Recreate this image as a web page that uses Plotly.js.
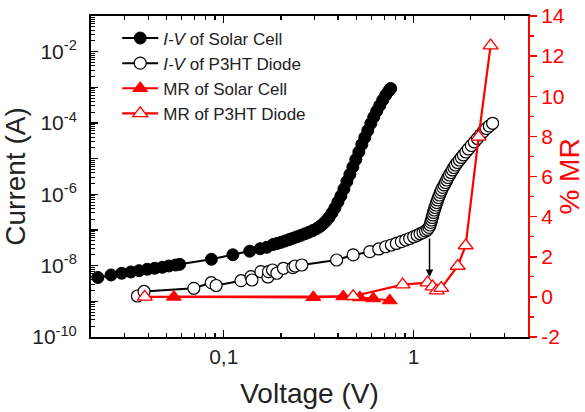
<!DOCTYPE html>
<html>
<head>
<meta charset="utf-8">
<script src="https://cdn.plot.ly/plotly-3.0.1.min.js"></script>
<style>
  html, body { margin: 0; padding: 0; background: #fff; }
  #chart { width: 585px; height: 412px; }
</style>
</head>
<body>
<div id="chart"></div>
<script>
// ---- Data ----
// I-V of Solar Cell (V, A)
const solarV = [0.02175, 0.0255, 0.0290, 0.0324, 0.0358, 0.0396, 0.0433, 0.0475, 0.0514, 0.0557, 0.0586,
  0.0861, 0.1117, 0.137, 0.1556, 0.1686,
  0.1822, 0.1911, 0.2006, 0.2105, 0.2210, 0.2319, 0.2433, 0.2554, 0.2680, 0.2813, 0.2953, 0.3098,
  0.3212, 0.3331, 0.3454, 0.3581, 0.3713, 0.3850, 0.3992, 0.4139, 0.4292, 0.4450, 0.4614, 0.4784,
  0.4961, 0.5144, 0.5334, 0.5531, 0.5735, 0.5946, 0.6166, 0.6393, 0.6629, 0.6874, 0.7127, 0.7390, 0.7571];
const solarI = [4.67e-9, 5.48e-9, 6.12e-9, 6.65e-9, 7.24e-9, 7.93e-9, 8.45e-9, 9.02e-9, 9.8e-9, 1.04e-8, 1.09e-8,
  1.51e-8, 2.02e-8, 2.55e-8, 2.99e-8, 3.28e-8,
  3.93e-8, 4.19e-8, 4.53e-8, 4.92e-8, 5.38e-8, 5.90e-8, 6.46e-8, 7.11e-8, 7.83e-8, 8.69e-8, 9.75e-8, 1.11e-7,
  1.26e-7, 1.48e-7, 1.79e-7, 2.24e-7, 3.00e-7, 4.14e-7, 6.11e-7, 8.99e-7, 1.41e-6, 2.29e-6, 3.60e-6, 5.85e-6,
  9.48e-6, 1.54e-5, 2.50e-5, 3.93e-5, 6.17e-5, 9.68e-5, 1.47e-4, 2.17e-4, 3.10e-4, 4.42e-4, 6.10e-4, 7.89e-4, 9.27e-4];

// I-V of P3HT Diode (V, A)
const diodeV = [0.03512, 0.03805, 0.06958, 0.0859, 0.0912, 0.1233, 0.1391, 0.1408, 0.1570, 0.1708, 0.1721,
  0.1806, 0.1905, 0.2062, 0.2311, 0.2375, 0.2576, 0.3929, 0.4802, 0.5875, 0.6549, 0.7127, 0.7634, 0.8110,
  0.8617, 0.9074, 0.9524, 0.9995, 1.0426, 1.0809, 1.1209, 1.1553, 1.1836, 1.2053, 1.2198, 1.2316, 1.2421,
  1.2524, 1.2618, 1.2723, 1.2832, 1.2957, 1.3083, 1.3225, 1.3354, 1.3518, 1.3681, 1.3845, 1.4015, 1.4237,
  1.4478, 1.4707, 1.4942, 1.5161, 1.5436, 1.5719, 1.6007, 1.6299, 1.6596, 1.7002, 1.7418, 1.7844, 1.8281,
  1.8840, 1.9418, 2.0133, 2.0874, 2.1645, 2.2442, 2.3267, 2.4128, 2.5018, 2.6036];
const diodeI = [1.41e-9, 1.89e-9, 2.32e-9, 3.33e-9, 2.78e-9, 3.79e-9, 4.91e-9, 3.97e-9, 6.78e-9, 4.82e-9, 6.78e-9,
  7.57e-9, 6.12e-9, 8.45e-9, 8.79e-9, 9.80e-9, 1.045e-8, 1.44e-8, 2.00e-8, 2.47e-8, 2.94e-8, 3.39e-8, 3.80e-8, 4.19e-8,
  4.71e-8, 5.25e-8, 5.78e-8, 6.46e-8, 7.11e-8, 7.83e-8, 8.51e-8, 9.39e-8, 1.035e-7, 1.18e-7, 1.38e-7, 1.63e-7, 1.91e-7,
  2.24e-7, 2.64e-7, 3.10e-7, 3.64e-7, 4.28e-7, 5.03e-7, 5.91e-7, 6.95e-7, 8.16e-7, 9.59e-7, 1.13e-6, 1.32e-6, 1.56e-6,
  1.83e-6, 2.15e-6, 2.52e-6, 2.96e-6, 3.48e-6, 4.10e-6, 4.82e-6, 5.66e-6, 6.65e-6, 7.82e-6, 9.18e-6, 1.08e-5, 1.27e-5,
  1.54e-5, 1.87e-5, 2.34e-5, 2.94e-5, 3.68e-5, 4.61e-5, 5.78e-5, 7.02e-5, 8.24e-5, 9.82e-5];

// MR of Solar Cell (V, %)
const mrSolarV = [0.0546, 0.2963, 0.4256, 0.5206, 0.6129, 0.748];
const mrSolar  = [0.0, -0.02, 0.02, -0.03, -0.08, -0.18];

// MR of P3HT Diode (V, %)
const mrDiodeV = [0.03837, 0.4802, 0.875, 1.184, 1.257, 1.324, 1.396, 1.7066, 1.879, 2.198, 2.542];
const mrDiode  = [0.0, 0.03, 0.61, 0.71, 0.51, 0.31, 0.44, 1.54, 2.56, 7.98, 12.52];

// Axis ticks
const xTickVals = [0.1, 1];
const xTickText = ['0,1', '1'];
const yTickExp = [-10, -9, -8, -7, -6, -5, -4, -3, -2, -1];
const y2TickVals = [-2, 0, 2, 4, 6, 8, 10, 12, 14];
const y2TickText = ['-2', '0', '2', '4', '6', '8', '10', '12', '14'];

// Legend labels
const names = ['<i>I-V</i> of Solar Cell', '<i>I-V</i> of P3HT Diode', 'MR of Solar Cell', 'MR of P3HT Diode'];

// ---- Derived tick arrays ----
const xMinor = [];
[0.01, 0.1, 1].forEach(d => { for (let k = 2; k <= 9; k++) xMinor.push(k * d); });
const yMinor = [];
for (let e = -10; e <= -2; e++) { for (let k = 2; k <= 9; k++) yMinor.push(k * Math.pow(10, e)); }
const yTickVals = yTickExp.map(e => Math.pow(10, e));
const yTickText = yTickExp.map(e => (e % 2 === 0 ? '10<sup>' + e + '</sup>' : ''));

const FONT = 'Arial, "Liberation Sans", sans-serif';
const RED = '#ff0000';

const traces = [
  { x: solarV, y: solarI, name: names[0], type: 'scatter', mode: 'lines+markers', yaxis: 'y',
    line: { color: '#000', width: 2 },
    marker: { symbol: 'circle', size: 12, color: '#000', line: { color: '#000', width: 1 } } },
  { x: diodeV, y: diodeI, name: names[1], type: 'scatter', mode: 'lines+markers', yaxis: 'y',
    line: { color: '#000', width: 2 },
    marker: { symbol: 'circle', size: 12, color: '#fff', line: { color: '#000', width: 1.2 } } },
  { x: mrSolarV, y: mrSolar, name: names[2], type: 'scatter', mode: 'lines+markers', yaxis: 'y2',
    line: { color: RED, width: 2.2 },
    marker: { symbol: 'triangle-up', size: 13, color: RED, line: { color: RED, width: 1 } } },
  { x: mrDiodeV, y: mrDiode, name: names[3], type: 'scatter', mode: 'lines+markers', yaxis: 'y2',
    line: { color: RED, width: 2.2 },
    marker: { symbol: 'triangle-up', size: 13, color: '#fff', line: { color: RED, width: 1.3 } } }
];

const layout = {
  width: 585, height: 412,
  margin: { l: 91, r: 57, t: 16, b: 75, pad: 0 },
  paper_bgcolor: '#fff', plot_bgcolor: '#fff',
  font: { family: FONT, color: '#222' },
  showlegend: true,
  legend: {
    x: 0.06, y: 0.986, xanchor: 'left', yanchor: 'top',
    bgcolor: 'rgba(0,0,0,0)', borderwidth: 0,
    itemwidth: 36,
    font: { family: FONT, size: 17, color: '#222' },
    tracegroupgap: 0
  },
  xaxis: {
    type: 'log',
    range: [Math.log10(0.02), Math.log10(4)],
    tickmode: 'array', tickvals: xTickVals, ticktext: xTickText,
    ticks: 'inside', ticklen: 7, tickwidth: 1.5, tickcolor: '#000',
    minor: { tickmode: 'array', tickvals: xMinor, ticks: 'inside', ticklen: 4, tickwidth: 1.2, tickcolor: '#000', showgrid: false },
    showline: true, linecolor: '#000', linewidth: 2, mirror: 'ticks',
    showgrid: false, zeroline: false,
    tickfont: { family: FONT, size: 21, color: '#222' },
    title: { text: 'Voltage (V)', font: { family: FONT, size: 28, color: '#222' }, standoff: 16 }
  },
  yaxis: {
    type: 'log',
    range: [-10, -1],
    tickmode: 'array', tickvals: yTickVals, ticktext: yTickText,
    ticks: 'inside', ticklen: 7, tickwidth: 1.5, tickcolor: '#000',
    minor: { tickmode: 'array', tickvals: yMinor, ticks: 'inside', ticklen: 4, tickwidth: 1, tickcolor: '#000', showgrid: false },
    showline: true, linecolor: '#000', linewidth: 2,
    showgrid: false, zeroline: false,
    ticklabelstandoff: 8,
    tickfont: { family: FONT, size: 21, color: '#222' },
    title: { text: 'Current (A)', font: { family: FONT, size: 28, color: '#222' }, standoff: 6 }
  },
  yaxis2: {
    overlaying: 'y', side: 'right',
    range: [-2, 14],
    tickmode: 'array', tickvals: y2TickVals, ticktext: y2TickText,
    ticks: 'outside', ticklen: 7, tickwidth: 1.5, tickcolor: RED,
    minor: { dtick: 1, ticks: 'outside', ticklen: 4, tickwidth: 1.2, tickcolor: RED, showgrid: false },
    showline: true, linecolor: RED, linewidth: 2,
    showgrid: false, zeroline: false,
    tickfont: { family: FONT, size: 21, color: RED },
    title: { text: '% MR', font: { family: FONT, size: 28, color: RED }, standoff: 6 }
  },
  annotations: [{
    x: Math.log10(1.212), y: 0.99, xref: 'x', yref: 'y2',
    ax: 0, ay: -40, axref: 'pixel', ayref: 'pixel',
    text: '', showarrow: true, arrowhead: 2, arrowsize: 1, arrowwidth: 1.5, arrowcolor: '#000'
  }]
};

Plotly.newPlot('chart', traces, layout, { displayModeBar: false, staticPlot: true });
</script>
</body>
</html>
